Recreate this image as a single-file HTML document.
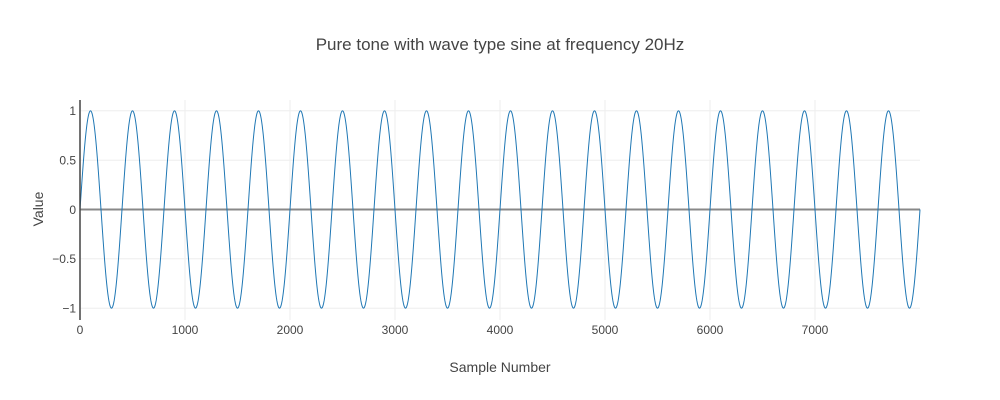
<!DOCTYPE html>
<html><head><style>
body{margin:0;background:#fff;}
svg{display:block;font-family:"Liberation Sans",sans-serif;}
</style></head><body>
<svg id="s" width="1000" height="400" xmlns="http://www.w3.org/2000/svg">
<rect width="1000" height="400" fill="#fff"/>
<g stroke="#eee" stroke-width="1">
<line x1="185" y1="100" x2="185" y2="320"/><line x1="290" y1="100" x2="290" y2="320"/>
<line x1="395" y1="100" x2="395" y2="320"/><line x1="500" y1="100" x2="500" y2="320"/>
<line x1="605" y1="100" x2="605" y2="320"/><line x1="710" y1="100" x2="710" y2="320"/>
<line x1="815" y1="100" x2="815" y2="320"/>
<line x1="80" y1="110.8" x2="920" y2="110.8"/><line x1="80" y1="160.2" x2="920" y2="160.2"/>
<line x1="80" y1="258.8" x2="920" y2="258.8"/><line x1="80" y1="308.2" x2="920" y2="308.2"/>
</g>
<line x1="80" y1="209.5" x2="920" y2="209.5" stroke="#888" stroke-width="2"/>
<polyline id="p" fill="none" stroke="#1f77b4" stroke-width="1"/>
<line x1="80" y1="100" x2="80" y2="320" stroke="#444" stroke-width="1.5"/>
<g fill="#444" font-size="12" text-anchor="end">
<text x="76" y="115">1</text><text x="76" y="164.5">0.5</text><text x="76" y="214">0</text>
<text x="76" y="263">−0.5</text><text x="76" y="312.5">−1</text>
</g>
<g fill="#444" font-size="12" text-anchor="middle">
<text x="80" y="334">0</text><text x="185" y="334">1000</text><text x="290" y="334">2000</text>
<text x="395" y="334">3000</text><text x="500" y="334">4000</text><text x="605" y="334">5000</text>
<text x="710" y="334">6000</text><text x="815" y="334">7000</text>
</g>
<text x="500" y="372" fill="#444" font-size="14" text-anchor="middle">Sample Number</text>
<text x="0" y="0" transform="translate(43,209) rotate(-90)" fill="#444" font-size="14" text-anchor="middle">Value</text>
<text x="500" y="50" fill="#444" font-size="17" text-anchor="middle">Pure tone with wave type sine at frequency 20Hz</text>
</svg>
<script>
var pts=[];for(var n=0;n<=8000;n+=5){pts.push((80+n*0.105).toFixed(2)+","+(209.5-98.7*Math.sin(2*Math.PI*n/400)).toFixed(2));}
document.getElementById("p").setAttribute("points",pts.join(" "));
</script>
</body></html>
